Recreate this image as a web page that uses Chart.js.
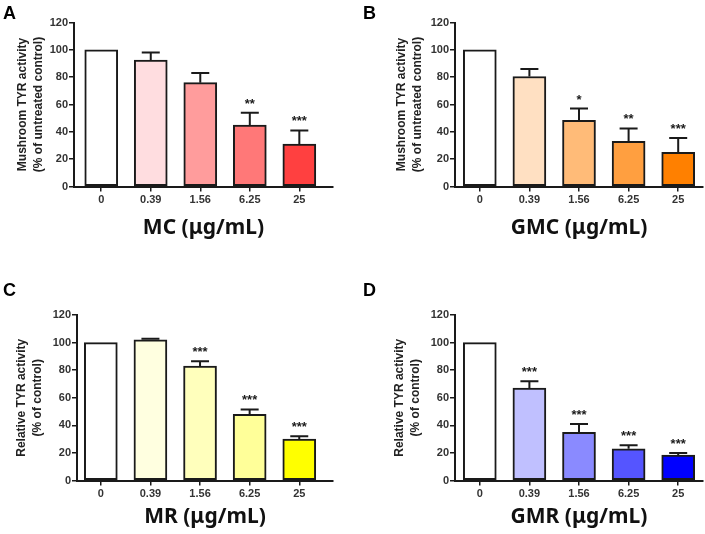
<!DOCTYPE html>
<html><head><meta charset="utf-8">
<script src="https://cdn.jsdelivr.net/npm/chart.js@4.4.1/dist/chart.umd.min.js"></script>
<style>
body{margin:0;background:#fff;width:705px;height:534px;position:relative;overflow:hidden}
canvas{position:absolute}
</style>
</head><body>
<canvas id="cA"></canvas><canvas id="cB"></canvas><canvas id="cC"></canvas><canvas id="cD"></canvas>
<script>
// ---- data ----
const categories = ['0', '0.39', '1.56', '6.25', '25'];
const yTickValues = [0, 20, 40, 60, 80, 100, 120];

const mcValues  = [100, 92.5, 76, 45, 31];
const mcErrors  = [0, 5.5, 7, 9, 10];
const mcStars   = ['', '', '', '**', '***'];

const gmcValues = [100, 80.5, 48.5, 33, 25];
const gmcErrors = [0, 5.5, 8.5, 9.5, 10.5];
const gmcStars  = ['', '', '*', '**', '***'];

const mrValues  = [100, 102, 83, 48, 30];
const mrErrors  = [0, 0.8, 3.5, 3.5, 2];
const mrStars   = ['', '', '***', '***', '***'];

const gmrValues = [100, 67, 35, 23, 18.5];
const gmrErrors = [0, 5, 6, 2.5, 1.5];
const gmrStars  = ['', '***', '***', '***', '***'];

const mushroomTitle = ['Mushroom TYR activity', '(% of untreated control)'];
const relativeTitle = ['Relative TYR activity', '(% of control)'];

// ---- panel layout / style ----
const panels = [
  {id:'cA', letter:'A', lx:3, ly:19, cx:0, cy:0, w:352, h:265, area:{l:74, t:22.5, r:333, b:186.5}, xmin:-0.55, xmax:4.68,
   yTitle:mushroomTitle, yTitleX:23, xTitle:'MC (μg/mL)', xTitleY:228,
   values:mcValues, errors:mcErrors, stars:mcStars,
   colors:['#FFFFFF','#FFDDE0','#FF9C9C','#FF7878','#FF4040']},
  {id:'cB', letter:'B', lx:363, ly:19, cx:352, cy:0, w:353, h:265, area:{l:455, t:22.5, r:703, b:186.5}, xmin:-0.5, xmax:4.5,
   yTitle:mushroomTitle, yTitleX:402, xTitle:'GMC (μg/mL)', xTitleY:228,
   values:gmcValues, errors:gmcErrors, stars:gmcStars,
   colors:['#FFFFFF','#FFE0C2','#FFBB78','#FF9F40','#FF8000']},
  {id:'cC', letter:'C', lx:3, ly:296, cx:0, cy:265, w:352, h:269, area:{l:77, t:315, r:333, b:480.5}, xmin:-0.48, xmax:4.68,
   yTitle:relativeTitle, yTitleX:22, xTitle:'MR (μg/mL)', xTitleY:517,
   values:mrValues, errors:mrErrors, stars:mrStars,
   colors:['#FFFFFF','#FFFFE0','#FFFFBC','#FFFF99','#FFFF00']},
  {id:'cD', letter:'D', lx:363, ly:296, cx:352, cy:265, w:353, h:269, area:{l:455, t:315, r:703, b:480.5}, xmin:-0.5, xmax:4.5,
   yTitle:relativeTitle, yTitleX:400, xTitle:'GMR (μg/mL)', xTitleY:517,
   values:gmrValues, errors:gmrErrors, stars:gmrStars,
   colors:['#FFFFFF','#C0C0FF','#8A8AFF','#5555FF','#0000FF']}
];

const INK = '#1a1a1a';

function overlayPlugin(p){
  return {
    id:'overlay'+p.letter,
    afterDatasetsDraw(chart){
      const ctx = chart.ctx, xs = chart.scales.x, ys = chart.scales.y;
      ctx.save();
      p.values.forEach((v, i) => {
        const x = xs.getPixelForValue(i);
        const yBar = ys.getPixelForValue(v);
        const yTop = ys.getPixelForValue(v + p.errors[i]);
        if (p.errors[i] > 0) {
          ctx.strokeStyle = INK; ctx.lineWidth = 2;
          ctx.beginPath();
          ctx.moveTo(x, yBar); ctx.lineTo(x, yTop);
          ctx.moveTo(x - 9, yTop); ctx.lineTo(x + 9, yTop);
          ctx.stroke();
        }
        if (p.stars[i]) {
          ctx.fillStyle = INK;
          ctx.font = 'bold 13px "Liberation Sans"';
          ctx.textAlign = 'center'; ctx.textBaseline = 'alphabetic';
          ctx.fillText(p.stars[i], x, Math.min(yTop, yBar) - 5);
        }
      });
      ctx.fillStyle = '#000';
      ctx.font = 'bold 18px "Liberation Sans"';
      ctx.textAlign = 'left'; ctx.textBaseline = 'alphabetic';
      ctx.fillText(p.letter, p.lx - p.cx, p.ly - p.cy);
      ctx.restore();
    }
  };
}

function makeChart(p){
  const cv = document.getElementById(p.id);
  cv.width = p.w; cv.height = p.h;
  cv.style.left = p.cx + 'px'; cv.style.top = p.cy + 'px';
  const tickFont = {family:'Liberation Sans', size:11, weight:'bold'};
  new Chart(cv, {
    type:'bar',
    data:{datasets:[{
      data:p.values.map((v, i) => ({x:i, y:v})),
      backgroundColor:p.colors, borderColor:INK, borderWidth:2, borderSkipped:false,
      barThickness:33
    }]},
    options:{
      responsive:false, animation:false, events:[],
      layout:{padding:{left:0, top:p.area.t - p.cy, right:p.cx + p.w - p.area.r, bottom:0}},
      plugins:{legend:{display:false}, tooltip:{enabled:false}},
      scales:{
        x:{
          type:'linear', min:p.xmin, max:p.xmax, offset:false,
          afterBuildTicks:s => { s.ticks = categories.map((c, i) => ({value:i})); },
          afterFit:s => { s.height = p.cy + p.h - p.area.b; },
          grid:{offset:false, drawOnChartArea:false, drawTicks:true, tickLength:5, color:INK, lineWidth:1.5},
          border:{display:true, color:INK, width:2},
          ticks:{callback:v => categories[Math.round(v)], padding:2, color:'#333', font:tickFont, maxRotation:0, autoSkip:false},
          title:{display:true, text:p.xTitle, color:'#111',
                 font:{family:'Noto Sans', size:21, weight:'bold', lineHeight:1.2},
                 padding:{top:0, bottom:p.cy + p.h - p.xTitleY - 12.6}}
        },
        y:{
          min:0, max:120,
          afterBuildTicks:s => { s.ticks = yTickValues.map(v => ({value:v})); },
          afterFit:s => { s.width = p.area.l - p.cx; },
          grid:{drawOnChartArea:false, drawTicks:true, tickLength:5, color:INK, lineWidth:1.5},
          border:{display:true, color:INK, width:2},
          ticks:{padding:1, color:'#333', font:tickFont},
          title:{display:true, text:p.yTitle, color:'#222',
                 font:{family:'Liberation Sans', size:12, weight:'bold', lineHeight:16/12},
                 padding:{top:p.yTitleX - p.cx - 8, bottom:0}}
        }
      }
    },
    plugins:[overlayPlugin(p)]
  });
}
panels.forEach(makeChart);
</script>
</body></html>
